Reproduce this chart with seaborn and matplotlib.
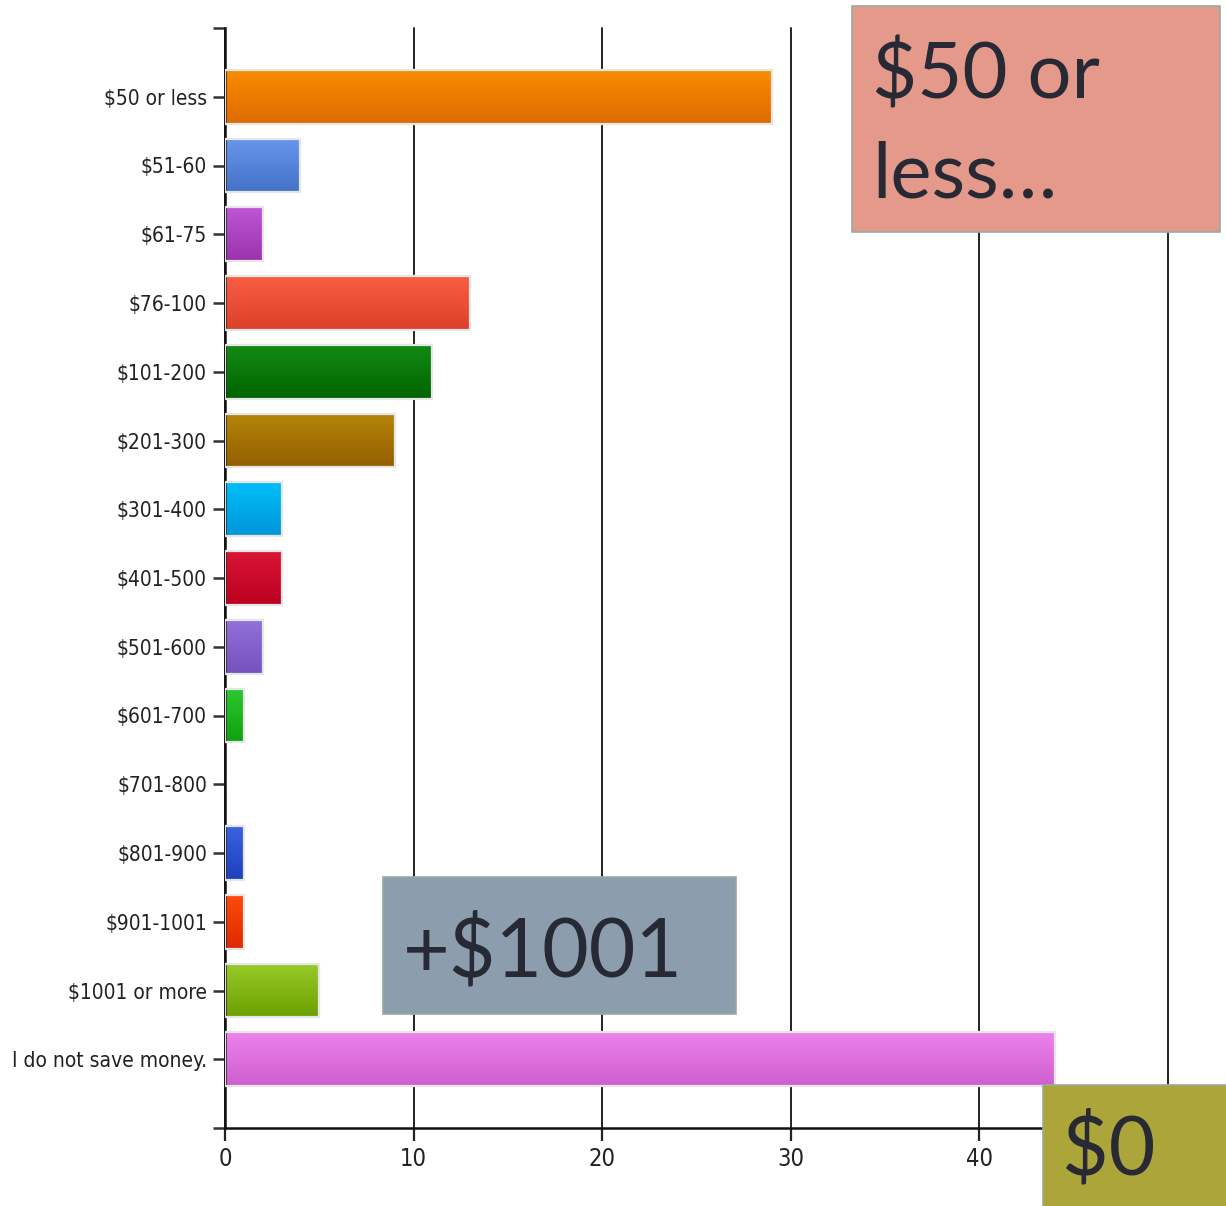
import matplotlib
matplotlib.use("Agg")
import matplotlib.pyplot as plt
import numpy as np
import pandas as pd
import seaborn as sns
from matplotlib.colors import LinearSegmentedColormap
from matplotlib.patches import Rectangle

categories = [
    "$50 or less", "$51-60", "$61-75", "$76-100", "$101-200", "$201-300",
    "$301-400", "$401-500", "$501-600", "$601-700", "$701-800", "$801-900",
    "$901-1001", "$1001 or more", "I do not save money.",
]
responses = [29, 4, 2, 13, 11, 9, 3, 3, 2, 1, 0, 1, 1, 5, 44]
x_ticks = [0, 10, 20, 30, 40, 50]

# gradient colours per bar: top / bottom
top_colors = [
    "#FA8C00", "#6796EB", "#BE56D6", "#F95E45", "#138A13", "#B5860A",
    "#00BEFA", "#DA1535", "#9270D9", "#2EC82E", "#888888", "#3A62E0",
    "#FF4A0A", "#98CB2A", "#EC82EC",
]
bottom_colors = [
    "#DE6A00", "#4472C8", "#9A33AB", "#DD4028", "#006400", "#935F00",
    "#0096D8", "#BC0020", "#7552BE", "#0FA20F", "#666666", "#1E3FBE",
    "#DD2A00", "#6CA000", "#CF5FCF",
]

df = pd.DataFrame({"category": categories, "count": responses})

sns.set_style("white")
plt.rcParams["font.family"] = ["DejaVu Sans"]
plt.rcParams["font.stretch"] = "condensed"

fig = plt.figure(figsize=(12.26, 12.06), dpi=100)
ax = fig.add_axes([225 / 1226, 1 - 1128 / 1206, (1168 - 225) / 1226, 1100 / 1206])

sns.barplot(
    data=df, y="category", x="count", hue="category", palette=top_colors,
    legend=False, width=0.78, ax=ax, orient="h",
)

# vertical gradient fill on each bar
for patch, c_top, c_bot in zip(ax.patches, top_colors, bottom_colors):
    x0, y0 = patch.get_x(), patch.get_y()
    w, h = patch.get_width(), patch.get_height()
    patch.set_facecolor("none")
    patch.set_zorder(3)
    if w <= 0:
        patch.set_linewidth(0)
        continue
    patch.set_edgecolor("#e6e6e6")
    patch.set_linewidth(1.6)
    cmap = LinearSegmentedColormap.from_list("g", [c_top, c_bot])
    grad = np.linspace(0, 1, 64).reshape(-1, 1)
    ax.imshow(grad, cmap=cmap, aspect="auto", origin="upper",
              extent=(x0, x0 + w, y0 + h, y0), zorder=2, interpolation="bilinear")

ax.set_xlim(0, 50)
ax.set_ylim(len(categories), -1)
ax.set_xticks(x_ticks)
ax.set_xticklabels(["0", "10", "20", "30", "40", ""])
ax.set_yticks(range(len(categories)))
ax.set_yticklabels(categories)
ax.set_yticks([-1, len(categories)], minor=True)
ax.set_xlabel("")
ax.set_ylabel("")

ax.set_axisbelow(True)
ax.grid(axis="x", color="#222222", linewidth=1.4, zorder=0)
ax.grid(axis="y", visible=False)
for line in ax.get_xgridlines():
    line.set_clip_on(False)

for side in ["top", "right"]:
    ax.spines[side].set_visible(False)
for side in ["left", "bottom"]:
    ax.spines[side].set_color("#111111")
    ax.spines[side].set_linewidth(1.8)

ax.tick_params(axis="y", which="both", direction="out", length=9, width=1.8,
               color="#333333", pad=4, labelsize=15, labelcolor="#222222", left=True)
ax.tick_params(axis="x", direction="out", length=9.5, width=1.6, color="#222222",
               pad=4, labelsize=17, labelcolor="#222222", bottom=True)
for lab in ax.get_yticklabels() + ax.get_xticklabels():
    lab.set_fontstretch("condensed")

# annotation boxes laid over the chart
box_font = ["Lato", "DejaVu Sans"]
text_color = "#272935"
edge = "#98aa9f"

fig.patches.append(Rectangle((852 / 1226, 1 - 232 / 1206), 368 / 1226, 226 / 1206,
                             transform=fig.transFigure, facecolor="#E4998A",
                             edgecolor=edge, linewidth=1.2, zorder=5))
fig.text(872 / 1226, 1 - 98 / 1206, "$50 or", fontsize=56, family=box_font,
         color=text_color, va="baseline", ha="left", zorder=6)
fig.text(872 / 1226, 1 - 197 / 1206, "less\u2026", fontsize=56, family=box_font,
         color=text_color, va="baseline", ha="left", zorder=6)

fig.patches.append(Rectangle((383 / 1226, 1 - 1014 / 1206), 353 / 1226, 137 / 1206,
                             transform=fig.transFigure, facecolor="#8C9DAE",
                             edgecolor=edge, linewidth=1.2, zorder=5))
fig.text(403 / 1226, 1 - 977 / 1206, "+$1001", fontsize=58, family=box_font,
         color=text_color, va="baseline", ha="left", zorder=6)

fig.patches.append(Rectangle((1043 / 1226, -0.01), 0.2, 1 - 1085 / 1206 + 0.01,
                             transform=fig.transFigure, facecolor="#ABA53A",
                             edgecolor=edge, linewidth=1.2, zorder=5))
fig.text(1062 / 1226, 1 - 1175 / 1206, "$0", fontsize=58, family=box_font,
         color=text_color, va="baseline", ha="left", zorder=6)

fig.savefig("out.png", dpi=100)
plt.close(fig)
